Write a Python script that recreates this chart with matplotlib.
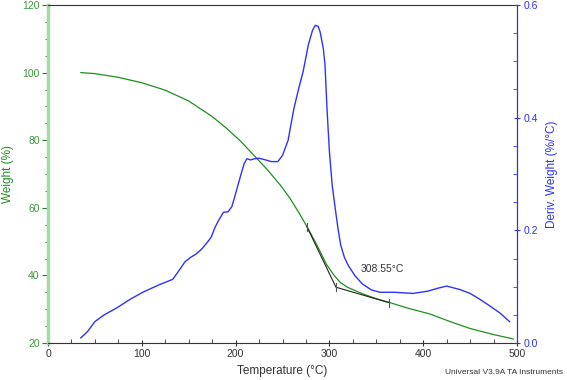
import matplotlib
matplotlib.use("Agg")
import matplotlib.pyplot as plt
from matplotlib.ticker import MultipleLocator, FormatStrFormatter

plt.rcParams['font.family'] = ['Liberation Sans', 'DejaVu Sans']

# weight curve (%)
temp_w = [35, 50, 75, 100, 125, 150, 175, 190, 205, 222, 235, 248, 258, 268, 277, 287, 297, 305,
          312, 320, 335, 350, 365, 385, 407, 430, 450, 475, 496]
weight = [100, 99.7, 98.6, 97, 94.8, 91.6, 87, 83.6, 79.8, 74.8, 70.9, 66.6, 62.8, 58.3, 54, 48.8,
          43.2, 40, 37.8, 36.4, 34.6, 33.1, 31.9, 30.2, 28.6, 26.2, 24.3, 22.5, 21.2]

# derivative curve (%/°C)
temp_d = [35, 42, 50, 60, 73, 88, 101, 118, 133, 139, 146, 152, 158, 164, 170, 174, 178, 182, 187,
          192, 196, 200, 205, 209, 212, 216, 220, 225, 232, 238, 245, 250, 256, 262, 267, 272, 277.5,
          282, 285, 288, 290, 293.5, 295.3, 297.5, 300, 303, 305, 309, 312, 316, 320, 327, 335, 345,
          354, 370, 389, 405, 415, 425, 439, 450, 460, 470, 482, 492]
deriv = [0.009, 0.02, 0.038, 0.05, 0.062, 0.078, 0.09, 0.103, 0.113, 0.127, 0.144, 0.152, 0.158,
         0.167, 0.179, 0.188, 0.205, 0.218, 0.232, 0.233, 0.242, 0.265, 0.295, 0.318, 0.327, 0.325,
         0.327, 0.328, 0.325, 0.322, 0.322, 0.333, 0.36, 0.415, 0.45, 0.482, 0.529, 0.555, 0.564,
         0.562, 0.553, 0.523, 0.494, 0.414, 0.34, 0.28, 0.254, 0.205, 0.174, 0.152, 0.138, 0.12,
         0.105, 0.094, 0.09, 0.09, 0.088, 0.092, 0.097, 0.101, 0.095, 0.088, 0.078, 0.067, 0.053,
         0.038]

# onset construction
onset_t = [276, 307, 364]
onset_w = [54.4, 36.5, 31.9]
onset_label = "308.55°C"

green = "#1f8f1f"
blue = "#3030ff"
fs = 7.5

fig = plt.figure(figsize=(5.67, 3.8), dpi=100)
ax = fig.add_axes([48 / 567, 37 / 380, 469 / 567, 338 / 380])
ax2 = ax.twinx()

ax.plot(temp_w, weight, color=green, lw=0.9)
ax2.plot(temp_d, deriv, color=blue, lw=1.0)

ax.plot(onset_t, onset_w, color="#222222", lw=0.8)
for t, w in zip(onset_t, onset_w):
    ax.plot([t, t], [w - 1.2, w + 1.2], color="#555555", lw=0.8)
ax.text(333, 41.9, onset_label, fontsize=fs, color="#333333", va="center")

ax.set_xlim(0, 500)
ax.set_ylim(20, 120)
ax2.set_ylim(0, 0.6)

ax.xaxis.set_major_locator(MultipleLocator(100))
ax.xaxis.set_minor_locator(MultipleLocator(25))
ax.yaxis.set_major_locator(MultipleLocator(20))
ax.yaxis.set_minor_locator(MultipleLocator(5))
ax2.yaxis.set_major_locator(MultipleLocator(0.2))
ax2.yaxis.set_minor_locator(MultipleLocator(0.05))
ax2.yaxis.set_major_formatter(FormatStrFormatter('%.1f'))

ax.spines['left'].set_color("#a8d8a8")
ax.spines['left'].set_linewidth(2.5)
ax.spines['top'].set_color("#333333")
ax.spines['bottom'].set_color("#333333")
ax2.spines['right'].set_color(blue)
ax2.spines['left'].set_visible(False)
ax2.spines['top'].set_visible(False)
ax2.spines['bottom'].set_visible(False)

ax.tick_params(axis='x', which='both', direction='in', colors="#333333", labelsize=fs, length=3, pad=2)
ax.tick_params(axis='x', which='major', direction='inout', length=5)
ax.tick_params(axis='y', which='both', direction='out', colors="#2a7a2a", labelsize=fs, length=2, pad=2)
ax.tick_params(axis='y', which='major', length=4)
ax.tick_params(axis='y', labelcolor="#3a9a3a")
ax2.tick_params(axis='y', which='both', direction='in', colors=blue, labelsize=fs, length=3, pad=2)
ax2.tick_params(axis='y', which='major', direction='inout', length=5)

ax.set_xlabel("Temperature (°C)", fontsize=8.5, color="#333333", labelpad=4)
ax.set_ylabel("Weight (%)", fontsize=8.5, color=green, labelpad=6)
ax2.set_ylabel("Deriv. Weight (%/°C)", fontsize=8.5, color=blue, labelpad=6)

fig.text(563 / 567, 8 / 380, "Universal V3.9A TA Instruments", fontsize=6, color="#333333",
         ha="right", va="center")

fig.savefig("out.png", dpi=100)
